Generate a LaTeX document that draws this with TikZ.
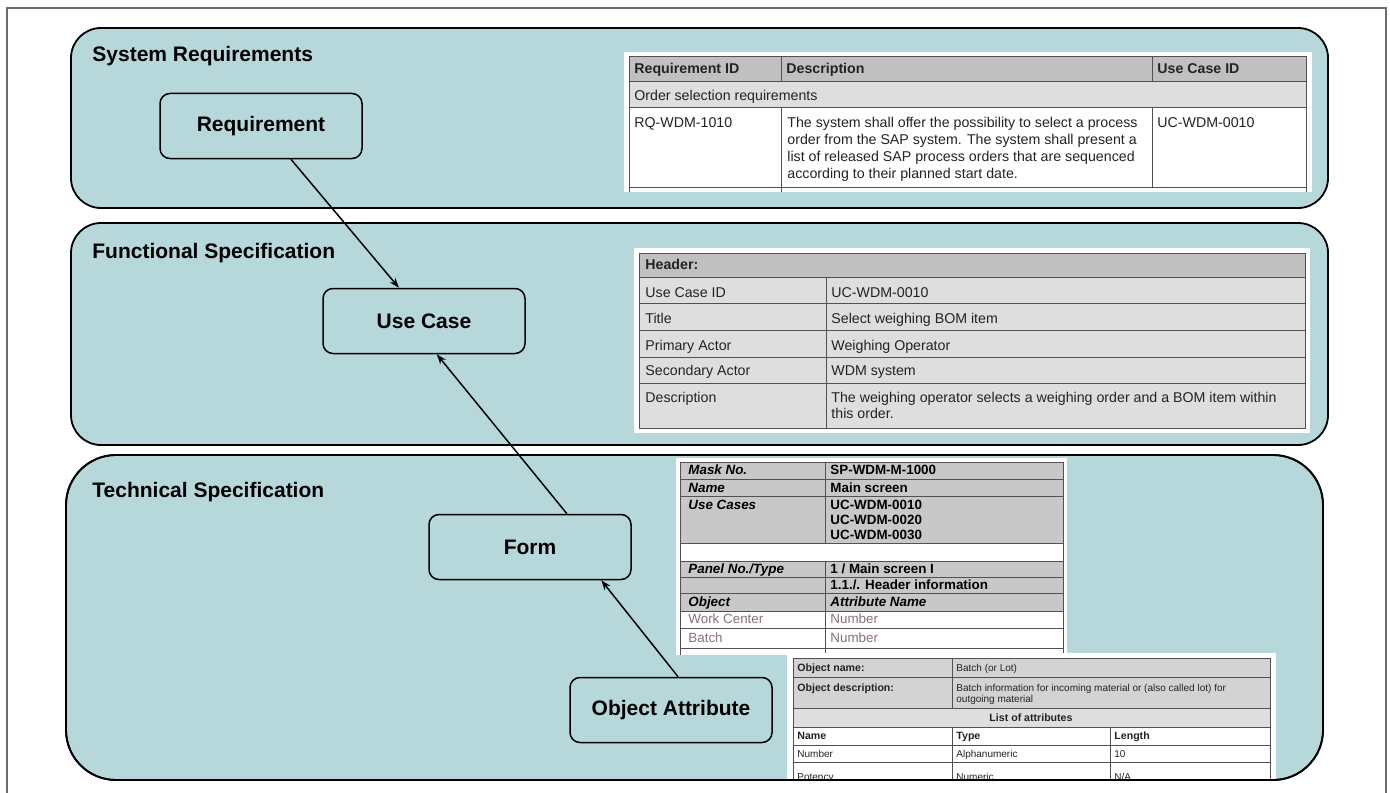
\documentclass[tikz,border=0pt]{standalone}
\usepackage{fontspec}
\setmainfont{Liberation Sans}
\usetikzlibrary{arrows.meta}
\definecolor{panelfill}{RGB}{183,216,219}
\definecolor{hdrgray}{RGB}{192,192,192}
\definecolor{rowgray}{RGB}{222,222,222}
\definecolor{maskgray}{RGB}{200,200,200}
\definecolor{gridline}{RGB}{85,80,80}
\definecolor{celltext}{RGB}{35,35,35}
\definecolor{faded}{RGB}{135,115,115}
\definecolor{framegray}{RGB}{110,110,110}

\begin{document}
\begin{tikzpicture}[x=0.5pt,y=-0.5pt,
    panel/.style={draw=black,line width=0.9pt,fill=panelfill},
    title/.style={anchor=base west,inner sep=0pt,font=\fontsize{10.5}{12}\selectfont\bfseries},
    item/.style={draw=black,line width=0.75pt,fill=panelfill,rounded corners=5pt,
        minimum width=101pt,minimum height=32.5pt,font=\fontsize{10.5}{12}\selectfont\bfseries},
    link/.style={line width=0.75pt,-{Stealth[length=5pt,width=3.6pt]}},
    cell/.style={anchor=base west,inner sep=0pt,text=celltext,font=\fontsize{7.1}{8}\selectfont},
    hcell/.style={cell,font=\fontsize{7.1}{8}\selectfont\bfseries},
    mcell/.style={cell,font=\fontsize{6.7}{8}\selectfont},
    mhcell/.style={cell,text=black,font=\fontsize{6.7}{8}\selectfont\bfseries},
    icell/.style={cell,text=black,font=\fontsize{6.7}{8}\selectfont\bfseries\itshape},
    scell/.style={cell,font=\fontsize{5}{6.5}\selectfont},
    shcell/.style={scell,font=\fontsize{5.3}{6.5}\selectfont\bfseries},
    grid/.style={draw=gridline,line width=0.5pt}]
    \useasboundingbox (0,0) rectangle (1390,792);
    \draw[framegray,line width=0.7pt] (7,800) -- (7,8) -- (1386,8) -- (1386,800);
    % layers
    \draw[panel,rounded corners=15pt] (71,28) rectangle (1328,208);
    \draw[panel,rounded corners=15pt] (71,223) rectangle (1328,445);
    \draw[panel,rounded corners=25pt] (66,455) rectangle (1323,780);
    \node[title] (sysreq) at (92,62) {System Requirements};
    \node[title] (funcspec) at (92,258) {Functional Specification};
    \node[title] (techspec) at (92,497) {Technical Specification};

    % requirement table
    \fill[white] (624,52) rectangle (1312,192);
    \fill[hdrgray] (629,57) rectangle (1306,82);
    \fill[rowgray] (629,82) rectangle (1306,108);
    \draw[grid] (629,192) -- (629,57) -- (1306,57) -- (1306,192);
    \draw[grid] (629,82) -- (1306,82);
    \draw[grid] (629,108) -- (1306,108);
    \draw[grid] (629,187) -- (1306,187);
    \draw[grid] (781,57) -- (781,82);
    \draw[grid] (781,108) -- (781,192);
    \draw[grid] (1152,57) -- (1152,82);
    \draw[grid] (1152,108) -- (1152,187);
    \node[hcell] (rqidh) at (634,74) {Requirement ID};
    \node[hcell] (desch) at (786,74) {Description};
    \node[hcell] (ucidh) at (1157,74) {Use Case ID};
    \node[cell] (ordsel) at (634,100) {Order selection requirements};
    \node[cell] (rqid) at (634,127) {RQ-WDM-1010};
    \node[cell] (rquc) at (1157,127) {UC-WDM-0010};
    \foreach \ln [count=\i] in {The system shall offer the possibility to select a process,
        order from the SAP system. The system shall present a,
        list of released SAP process orders that are sequenced,
        according to their planned start date.}
        \node[cell] (rqd\i) at (787,110+\i*17) {\ln};

    % use case table
    \fill[white] (634,248) rectangle (1310,433);
    \fill[hdrgray] (639,253) rectangle (1305,277);
    \fill[rowgray] (639,277) rectangle (1305,428);
    \draw[grid] (639,253) rectangle (1305,428);
    \foreach \y in {277,303,330,357,383}
        \draw[grid] (639,\y) -- (1305,\y);
    \draw[grid] (826,277) -- (826,428);
    \node[hcell] (hdr) at (645,269) {Header:};
    \foreach \lab/\val/\y [count=\i] in {Use Case ID/UC-WDM-0010/297,
        Title/Select weighing BOM item/323,
        Primary Actor/Weighing Operator/350,
        Secondary Actor/WDM system/375,
        Description/The weighing operator selects a weighing order and a BOM item within/402}
    {
        \node[cell] (ucl\i) at (645,\y) {\lab};
        \node[cell] (ucv\i) at (831,\y) {\val};
    }
    \node[cell] (ucv6) at (831,418) {this order.};

    % mask table
    \fill[white] (676,458) rectangle (1067,655);
    \fill[maskgray] (680,462) rectangle (1063,543);
    \fill[maskgray] (680,561) rectangle (1063,611);
    \draw[grid] (680,655) -- (680,462) -- (1063,462) -- (1063,655);
    \foreach \y in {479,496,543,561,577,593,611,628,648}
        \draw[grid] (680,\y) -- (1063,\y);
    \draw[grid] (825,462) -- (825,543);
    \draw[grid] (825,561) -- (825,655);
    \node[icell] (maskl) at (688,474) {Mask No.};
    \node[icell] (namel) at (688,492) {Name};
    \node[icell] (usel) at (688,509) {Use Cases};
    \node[icell] (panl) at (688,573) {Panel No./Type};
    \node[icell] (objl) at (688,606) {Object};
    \node[mhcell] (maskv) at (830,474) {SP-WDM-M-1000};
    \node[mhcell] (namev) at (830,492) {Main screen};
    \foreach \u [count=\i] in {0010,0020,0030}
        \node[mhcell] (usev\i) at (830,494+\i*15) {UC-WDM-\u};
    \node[mhcell] (panv) at (830,573) {1 / Main screen I};
    \node[mhcell] (hinfo) at (830,589) {1.1./. Header information};
    \node[icell] (attrv) at (830,606) {Attribute Name};
    \node[mcell,text=faded] (wcl) at (688,623) {Work Center};
    \node[mcell,text=faded] (wcv) at (830,623) {Number};
    \node[mcell,text=faded] (bal) at (688,642) {Batch};
    \node[mcell,text=faded] (bav) at (830,642) {Number};

    % object table
    \begin{scope}
    \clip (780,650) rectangle (1285,778);
    \fill[white] (787,653) rectangle (1276,780);
    \fill[maskgray!80!white] (793,658) rectangle (1270,708);
    \fill[rowgray] (793,708) rectangle (1270,727);
    \draw[grid] (793,780) -- (793,658) -- (1270,658) -- (1270,780);
    \foreach \y in {677,708,727,745,762}
        \draw[grid] (793,\y) -- (1270,\y);
    \draw[grid] (952,658) -- (952,708);
    \draw[grid] (952,727) -- (952,780);
    \draw[grid] (1110,727) -- (1110,780);
    \node[shcell] (onl) at (797,671) {Object name:};
    \node[scell] (onv) at (956,671) {Batch (or Lot)};
    \node[shcell] (odl) at (797,691) {Object description:};
    \node[scell] (odv1) at (956,691) {Batch information for incoming material or (also called lot) for};
    \node[scell] (odv2) at (956,702) {outgoing material};
    \node[shcell,anchor=base] (loa) at (1031,721) {List of attributes};
    \node[shcell] (nmh) at (797,739) {Name};
    \node[shcell] (tyh) at (956,739) {Type};
    \node[shcell] (leh) at (1114,739) {Length};
    \node[scell] (nm1) at (797,757) {Number};
    \node[scell] (ty1) at (956,757) {Alphanumeric};
    \node[scell] (le1) at (1114,757) {10};
    \node[scell] (nm2) at (797,780) {Potency};
    \node[scell] (ty2) at (956,780) {Numeric};
    \node[scell] (le2) at (1114,780) {N/A};
    \end{scope}
    \draw[line width=0.9pt,rounded corners=25pt] (66,455) rectangle (1323,780);

    % items
    \node[item] (req) at (261,126) {Requirement};
    \node[item] (uc) at (424,321) {Use Case};
    \node[item] (form) at (530,547) {Form};
    \node[item] (oa) at (671,710) {Object Attribute};
    \draw[link] (req.-48) -- (uc.127);
    \draw[link] (form.42) -- (uc.-69);
    \draw[link] (oa.78) -- (form.-25);
\end{tikzpicture}
\end{document}
